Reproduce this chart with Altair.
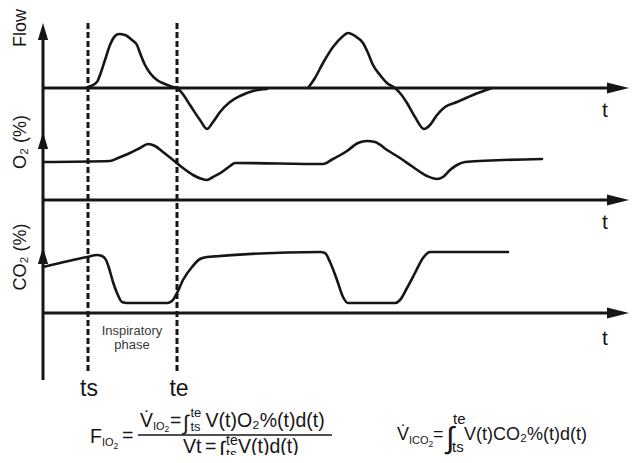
import altair as alt
import pandas as pd

INK = "#161616"
FONT = "Liberation Sans"

# ---- signal traces (time axis -> horizontal units, signal -> vertical units) ----
flow1_x = [88, 97, 100, 105, 110, 115, 119, 125, 132, 137, 140, 145, 150, 157, 165, 173, 177,
           182, 190, 200, 207, 213, 220, 230, 240, 253, 267]
flow1_y = [87, 82, 75, 60, 45, 36, 34, 35, 40, 45, 53, 65, 73, 80, 84, 87, 88,
           93, 105, 120, 129, 122, 112, 102, 96, 91, 89]
flow2_x = [308, 315, 323, 333, 342, 348, 355, 363, 368, 373, 380, 387, 395,
           400, 407, 415, 424, 430, 437, 445, 457, 473, 492]
flow2_y = [88, 78, 63, 47, 37, 33, 36, 43, 53, 65, 75, 83, 88,
           93, 103, 117, 129, 125, 115, 107, 102, 95, 88]
o2_x = [43, 110, 118, 130, 140, 148, 155, 163, 173, 183, 193, 202, 207, 213, 222, 230, 235,
        323, 333, 347, 358, 367, 375, 387, 400, 413, 427, 437, 443, 450, 457, 465, 542]
o2_y = [162, 161, 158, 153, 148, 144, 146, 152, 160, 168, 175, 179, 180, 177, 172, 166, 163,
        164, 159, 151, 143, 141, 142, 150, 158, 167, 176, 179, 177, 170, 165, 162, 159]
co2_x = [43, 87, 97, 102, 106, 109, 113, 117, 122, 127, 167, 172, 177, 183, 192, 200, 207,
         320, 325, 330, 337, 343, 348, 353, 395, 400, 407, 415, 423, 430, 508]
co2_y = [267, 257, 255, 256, 260, 268, 282, 293, 302, 303, 303, 301, 293, 280, 267, 259, 257,
         252, 253, 262, 280, 297, 303, 303, 303, 300, 288, 273, 258, 252, 252]

# ---- texts ----
axis_labels = ["Flow", "O\u2082 (%)", "CO\u2082 (%)"]
time_label = "t"
marker_labels = ["ts", "te"]
phase_label = ["Inspiratory", "phase"]
formula_left = ["F", "IO", "2", "=",
                "V\u0307", "IO", "2", "=", "\u222b", "te", "ts", "V(t)O\u2082%(t)d(t)",
                "Vt", "=", "\u222b", "te", "ts", "V(t)d(t)"]
formula_right = ["V\u0307", "ICO", "2", "=", "\u222b", "te", "ts", "V(t)CO\u2082%(t)d(t)"]

# ---- layout (positions / sizes) ----
baselines_y = [88, 200, 313]
axis_x = 43
marker_x = [88, 177]
left_pos = [(90, 443, 19.5), (102, 446, 11), (113.5, 449, 8.5), (122, 442, 19.5),
            (140, 427, 19.5), (153, 430, 11), (164.5, 432, 8.5), (170, 427, 19.5),
            (183, 430, 21), (190.5, 417, 13), (190.5, 431, 13), (205.5, 427, 19.5),
            (183, 453, 19.5), (205, 453, 19.5), (219, 457, 22), (226, 445, 14),
            (226, 459, 14), (238, 453, 19.5)]
right_pos = [(397, 440, 18), (409, 444, 11), (428.5, 447, 8.5), (433, 440, 18),
             (446, 448, 30), (453, 424, 15), (452, 452, 15), (464, 440, 18)]

XS = alt.Scale(domain=[8, 630], nice=False, zero=False)
YS = alt.Scale(domain=[8, 455], nice=False, zero=False, reverse=True)


def X(f="x"):
    return alt.X(f"{f}:Q", scale=XS, axis=None)


def Y(f="y"):
    return alt.Y(f"{f}:Q", scale=YS, axis=None)


rows = []
for name, xs, ys in [("flow1", flow1_x, flow1_y), ("flow2", flow2_x, flow2_y),
                     ("o2", o2_x, o2_y), ("co2", co2_x, co2_y)]:
    for i, (a, b) in enumerate(zip(xs, ys)):
        rows.append({"series": name, "x": a, "y": b, "order": i})
curves_df = pd.DataFrame(rows)

curves = alt.Chart(curves_df).mark_line(
    interpolate="monotone", strokeWidth=2.6, color=INK, strokeCap="round", strokeJoin="round"
).encode(x=X(), y=Y(), detail="series:N", order="order:Q")

# horizontal time axes
h_df = pd.DataFrame({"x": [axis_x] * 3, "x2": [610] * 3, "y": baselines_y})
h_axes = alt.Chart(h_df).mark_rule(strokeWidth=3, color=INK).encode(
    x=X(), x2=alt.X2("x2:Q"), y=Y())

# vertical axis
v_df = pd.DataFrame({"x": [axis_x], "y": [32], "y2": [380]})
v_axis = alt.Chart(v_df).mark_rule(strokeWidth=3, color=INK).encode(
    x=X(), y=Y(), y2=alt.Y2("y2:Q"))

# dashed markers ts / te
d_df = pd.DataFrame({"x": marker_x, "y": [23, 23], "y2": [373, 373]})
dashed = alt.Chart(d_df).mark_rule(strokeWidth=3, color=INK, strokeDash=[6, 3]).encode(
    x=X(), y=Y(), y2=alt.Y2("y2:Q"))

# arrowheads
up_df = pd.DataFrame({"x": [axis_x] * 3, "y": [31.5, 140.5, 255.5]})
up_arrows = alt.Chart(up_df).mark_point(
    shape="M0,-1L0.6,1L-0.6,1Z", size=289, filled=True, fill=INK, strokeWidth=0, opacity=1
).encode(x=X(), y=Y())
right_df = pd.DataFrame({"x": [618] * 3, "y": baselines_y})
right_arrows = alt.Chart(right_df).mark_point(
    shape="M1,0L-1,-0.5L-1,0.5Z", size=484, filled=True, fill=INK, strokeWidth=0, opacity=1
).encode(x=X(), y=Y())

# rotated axis labels
ax_df = pd.DataFrame({"text": axis_labels, "x": [21, 21, 21], "y": [28, 142, 257]})
ax_text = alt.Chart(ax_df).mark_text(
    angle=270, align="center", baseline="middle", fontSize=18, font=FONT, color=INK
).encode(x=X(), y=Y(), text="text:N")

# centered labels
c_rows = [{"text": time_label, "x": 605, "y": yy, "size": 21, "color": INK} for yy in [117, 229, 345]]
c_rows += [{"text": marker_labels[0], "x": 89, "y": 396, "size": 23, "color": INK},
           {"text": marker_labels[1], "x": 179, "y": 396, "size": 23, "color": INK},
           {"text": phase_label[0], "x": 132, "y": 335, "size": 13, "color": "#3a3a3a"},
           {"text": phase_label[1], "x": 132, "y": 349, "size": 13, "color": "#3a3a3a"}]
c_df = pd.DataFrame(c_rows)
c_text = alt.Chart(c_df).mark_text(align="center", baseline="alphabetic", font=FONT).encode(
    x=X(), y=Y(), text="text:N", size=alt.Size("size:Q", scale=None),
    color=alt.Color("color:N", scale=None))

# formula segments
f_rows = []
for t, (a, b, s) in zip(formula_left + formula_right, left_pos + right_pos):
    f_rows.append({"text": t, "x": a, "y": b, "size": s})
f_df = pd.DataFrame(f_rows)
f_text = alt.Chart(f_df).mark_text(align="left", baseline="alphabetic", font=FONT, color=INK).encode(
    x=X(), y=Y(), text="text:N", size=alt.Size("size:Q", scale=None))

frac_df = pd.DataFrame({"x": [138], "x2": [332], "y": [435]})
frac = alt.Chart(frac_df).mark_rule(strokeWidth=1.5, color=INK).encode(
    x=X(), x2=alt.X2("x2:Q"), y=Y())

chart = alt.layer(
    h_axes, v_axis, dashed, curves, up_arrows, right_arrows, ax_text, c_text, f_text, frac
).properties(
    width=622, height=447, padding=0, background="white",
    autosize=alt.AutoSizeParams(type="none")
).configure_view(stroke=None)

chart.save("out.html", embed_options={"renderer": "svg", "actions": False})
